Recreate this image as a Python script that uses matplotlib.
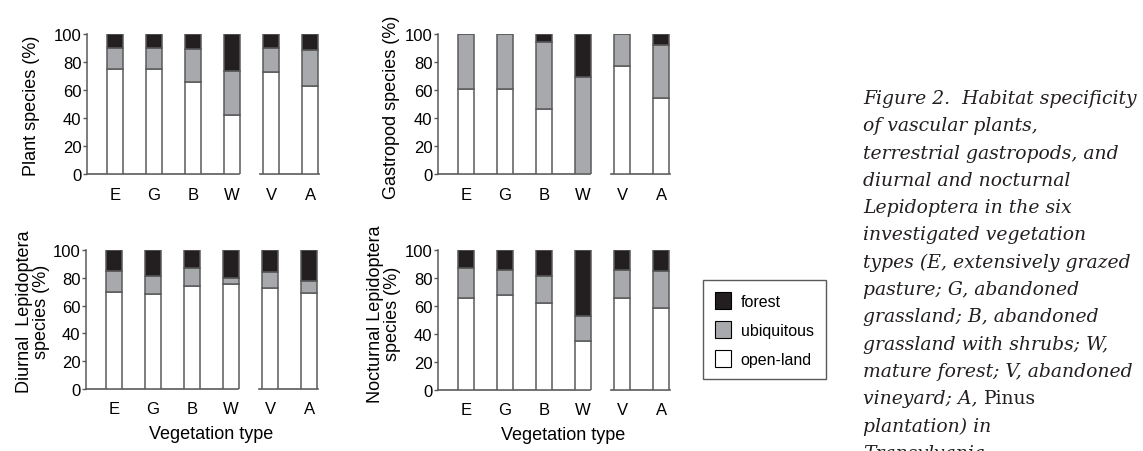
import matplotlib.pyplot as plt
from matplotlib.patches import Patch

# vegetation types along the x axis
veg_types = ['E', 'G', 'B', 'W', 'V', 'A']

# cumulative heights (%) : top of open-land part, top of ubiquitous part; forest fills to 100
plant_open = [75, 75, 66, 42, 73, 63]
plant_ubiq = [90, 90, 89, 73.5, 90, 88.5]

gastro_open = [61, 61, 46.5, 0, 77, 54.5]
gastro_ubiq = [100, 100, 94.5, 69.5, 100, 92]

diurnal_open = [69.5, 68.7, 74.2, 75.6, 73, 69.4]
diurnal_ubiq = [84.8, 81.1, 86.8, 79.5, 84.2, 77.8]

nocturnal_open = [65.5, 67.7, 62.2, 35.2, 66, 58.9]
nocturnal_ubiq = [86.8, 85.6, 81.3, 52.6, 85.6, 84.9]

c_forest = '#231f20'
c_ubiq = '#a7a9ac'
c_open = 'white'
edge = '#5a5a5a'

plt.rcParams['font.family'] = ['Liberation Sans', 'DejaVu Sans']

W, H = 1143, 452
fig = plt.figure(figsize=(W / 100, H / 100), dpi=100)

x_left, x_right = -0.72, 5.25


def make_axes(px_left, px_top, px_bottom):
    width = (x_right - x_left) * 39
    return fig.add_axes([px_left / W, 1 - px_bottom / H, width / W, (px_bottom - px_top) / H])


def draw_panel(ax, open_vals, ubiq_vals, xlabel=False):
    x = range(len(veg_types))
    forest = [100 - u for u in ubiq_vals]
    ubiq = [u - o for u, o in zip(ubiq_vals, open_vals)]
    kw = dict(width=0.43, edgecolor=edge, linewidth=1.1)
    ax.bar(x, open_vals, color=c_open, **kw)
    ax.bar(x, ubiq, bottom=open_vals, color=c_ubiq, **kw)
    ax.bar(x, forest, bottom=ubiq_vals, color=c_forest, **kw)

    ax.set_xlim(x_left, x_right)
    ax.set_ylim(0, 100)
    ax.set_yticks([0, 20, 40, 60, 80, 100])
    ax.set_xticks(list(x))
    ax.set_xticklabels(veg_types)
    ax.tick_params(axis='y', length=3, width=1, color=edge, pad=1, labelsize=12)
    ax.tick_params(axis='x', length=0, pad=9, labelsize=12)
    for s in ['top', 'right', 'bottom']:
        ax.spines[s].set_visible(False)
    ax.spines['left'].set_color(edge)
    ax.spines['left'].set_linewidth(1.1)

    # broken x axis between W and V
    tr = ax.get_xaxis_transform()
    ax.plot([x_left, 3.18], [0, 0], color=edge, lw=1.2, transform=tr, clip_on=False, zorder=0)
    ax.plot([3.72, 5.23], [0, 0], color=edge, lw=1.2, transform=tr, clip_on=False, zorder=0)

    if xlabel:
        ax.text(2.5, -0.32, 'Vegetation type', transform=tr, ha='center', va='center', fontsize=13)


ax1 = make_axes(87, 35, 175)
ax2 = make_axes(438, 35, 175)
ax3 = make_axes(86, 251, 390)
ax4 = make_axes(438, 251, 391)

draw_panel(ax1, plant_open, plant_ubiq)
draw_panel(ax2, gastro_open, gastro_ubiq)
draw_panel(ax3, diurnal_open, diurnal_ubiq, xlabel=True)
draw_panel(ax4, nocturnal_open, nocturnal_ubiq, xlabel=True)

# y axis labels
fig.text(32 / W, 1 - 106 / H, 'Plant species (%)', rotation=90, ha='center', va='center', fontsize=13)
fig.text(392 / W, 1 - 107 / H, 'Gastropod species (%)', rotation=90, ha='center', va='center', fontsize=13)
fig.text(33 / W, 1 - 312 / H, 'Diurnal  Lepidoptera\nspecies (%)', rotation=90, ha='center',
         va='center', fontsize=13, linespacing=1.0, multialignment='center')
fig.text(384 / W, 1 - 314 / H, 'Nocturnal Lepidoptera\nspecies (%)', rotation=90, ha='center',
         va='center', fontsize=13, linespacing=1.0, multialignment='center')

# legend
handles = [Patch(facecolor=c_forest, edgecolor='black', lw=0.8, label='forest'),
           Patch(facecolor=c_ubiq, edgecolor='black', lw=0.8, label='ubiquitous'),
           Patch(facecolor=c_open, edgecolor='black', lw=0.8, label='open-land')]
leg = fig.legend(handles=handles, loc='upper left', bbox_to_anchor=(703 / W, 1 - 281 / H),
                 bbox_transform=fig.transFigure, borderaxespad=0, fontsize=11.5,
                 handlelength=1.0, handleheight=1.25, labelspacing=0.75, handletextpad=0.6,
                 borderpad=0.75, fancybox=False, framealpha=1)
leg.get_frame().set_edgecolor(edge)
leg.get_frame().set_linewidth(1.0)

# figure caption
cap_lines = ['Figure 2.  Habitat specificity',
             'of vascular plants,',
             'terrestrial gastropods, and',
             'diurnal and nocturnal',
             'Lepidoptera in the six',
             'investigated vegetation',
             'types (E, extensively grazed',
             'pasture; G, abandoned',
             'grassland; B, abandoned',
             'grassland with shrubs; W,',
             'mature forest; V, abandoned',
             'vineyard; A, ',
             'plantation) in',
             'Transylvania.']
cap_ax = fig.add_axes([0, 0, 1, 1])
cap_ax.axis('off')
cap_x = 863 / W
base0 = 104
step = 27.3
cap_font = dict(family='DejaVu Serif', style='italic', fontsize=13.5, color='#231f20')
for i, line in enumerate(cap_lines):
    yb = 1 - (base0 + i * step) / H
    t = cap_ax.text(cap_x, yb, line, ha='left', va='baseline', **cap_font)
    if line == 'vineyard; A, ':
        cap_ax.annotate('Pinus', xy=(1, yb), xycoords=(t, 'axes fraction'), ha='left',
                        va='baseline', family='DejaVu Serif', fontsize=13.5, color='#231f20')

fig.savefig('out.png', dpi=100)
